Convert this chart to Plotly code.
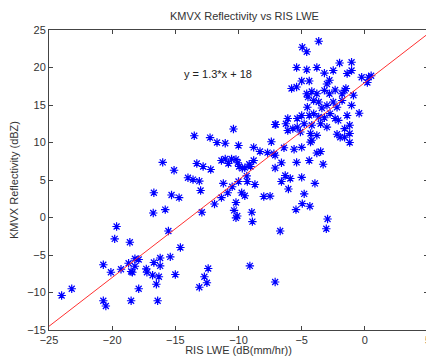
import plotly.graph_objects as go

# RIS LWE (dB(mm/hr)) values of the scatter points
lwe = [
    -24.0, -23.2, -20.7, -20.5, -20.7, -20.1, -19.65, -19.8, -19.3, -18.6, -18.7, -18.5, -18.4,
    -18.2, -17.9, -18.2, -18.5, -17.9, -17.3, -17.25, -16.7, -16.8, -16.2, -16.2, -16.3, -16.5,
    -16.4, -15.4, -15.0, -16.75, -16.7, -15.8, -15.3, -15.55, -16.0, -15.1,
    -10.4, -13.5, -12.25, -11.7, -11.05, -10.0, -8.8, -8.3, -7.4, -7.1, -7.7, -7.2,
    -13.3, -12.8, -12.2, -11.35, -11.05, -10.8, -10.55, -10.2, -10.05, -9.95, -9.7, -9.5, -9.15,
    -9.05, -8.8, -7.1, -14.0, -13.6, -13.1, -11.2, -9.35, -10.0, -9.3, -10.5, -8.7, -13.0, -10.85,
    -9.75, -9.5, -11.35, -14.7, -11.9, -10.2, -10.35, -8.0, -7.5, -12.9, -10.1, -10.2, -8.95, -8.9,
    -14.6, -12.4, -12.7, -12.5, -13.1, -9.1, -7.1,
    -1.2, -7.1, -6.4, -5.6, -5.0, -4.3, -3.8, -3.5, -6.6, -5.4, -4.4, -3.3, -6.3, -5.9, -6.6, -5.0,
    -3.95, -6.05, -4.8, -4.95, -5.45, -4.35, -2.95, -3.05, -6.7,
    -3.65, -4.95, -4.6, -5.4, -4.6, -3.8, -2.0, -3.2, -2.5, -5.0, -4.4, -3.0, -2.8, -5.8, -5.4,
    -4.6, -4.5, -4.2, -3.8, -3.2, -2.8, -2.35, -1.8, -1.6, -4.05, -3.65, -3.4, -3.0, -2.5, -2.2,
    -1.8, -4.55, -5.0, -5.35, -4.4, -4.05, -3.65, -3.2, -2.75, -2.35, -6.1, -6.25, -7.05, -5.35,
    -4.8, -4.2, -3.5, -3.0, -6.1, -5.7, -5.1, -4.3, -3.8, -2.2, -4.2, -1.95,
    -1.05, -1.05, -1.4, -0.25, 0.5, 0.2, -1.5, -0.9, -1.05, -0.45, -1.4, -2.1, -1.2, -1.6, -1.2,
    -1.6, 0.3,
]

# KMVX Reflectivity (dBZ) values of the scatter points
dbz = [
    -10.4, -9.5, -11.1, -11.8, -6.3, -7.3, -1.2, -2.85, -6.9, -3.3, -6.1, -7.2, -7.3,
    -5.5, -5.6, -6.5, -11.1, -9.5, -6.85, -7.3, -6.0, -7.7, -5.4, -6.45, -7.9, -8.9,
    -11.1, -5.25, -7.6, 0.6, 3.3, 1.05, 3.0, -1.8, 7.35, 6.3,
    11.8, 10.9, 10.65, 10.0, 9.9, 9.6, 9.35, 8.8, 10.1, 12.4, 8.65, 8.5,
    7.2, 6.8, 6.4, 7.6, 7.8, 7.2, 7.8, 7.75, 7.3, 6.8, 6.55, 6.65, 7.1,
    6.8, 7.6, 6.6, 5.3, 5.05, 4.85, 4.55, 5.55, 4.8, 4.8, 4.1, 4.4, 3.6, 3.3,
    3.3, 2.9, 2.65, 2.65, 1.8, 2.0, 0.95, 2.8, 2.85, 0.7, 0.2, -0.05, 0.7, -0.55,
    -4.0, -6.8, -7.9, -8.7, -9.3, -6.45, -8.6,
    10.0, 8.3, 9.3, 9.1, 9.35, 10.05, 8.6, 8.8, 7.3, 7.35, 7.6, 7.1, 5.6, 5.2, 4.8, 5.35,
    4.55, 3.8, 3.15, 1.85, 1.05, 1.5, -0.2, -1.5, -1.8,
    23.5, 22.7, 22.1, 20.0, 19.7, 20.0, 20.6, 19.25, 19.6, 18.2, 18.2, 17.8, 18.3, 17.2, 17.4,
    16.5, 16.05, 16.8, 16.5, 16.95, 16.5, 17.0, 16.5, 16.95, 15.6, 15.4, 14.6, 14.95, 15.4, 14.7,
    15.6, 14.7, 13.6, 13.2, 13.6, 13.85, 13.4, 13.3, 13.85, 13.2, 13.2, 12.5, 12.4, 12.05,
    12.5, 12.3, 12.5, 12.05, 11.6, 11.85, 11.4, 11.2, 10.95, 11.1, 10.3, 10.7,
    20.7, 19.6, 19.2, 18.7, 18.9, 18.0, 17.2, 16.3, 14.95, 13.9, 13.6, 12.95, 12.3, 11.85, 11.2,
    10.7, 18.7,
]

# Fitted line y = 1.3*x + 18
fit_x = [-25, 5]
fit_slope = 1.3
fit_intercept = 18
fit_y = [fit_slope * v + fit_intercept for v in fit_x]

x_ticks = [-25, -20, -15, -10, -5, 0, 5]
y_ticks = [-15, -10, -5, 0, 5, 10, 15, 20, 25]

font = dict(family="Liberation Sans, Arial, sans-serif", size=11, color="#333333")

fig = go.Figure()
fig.add_trace(go.Scatter(
    x=lwe, y=dbz, mode="markers",
    marker=dict(symbol="asterisk-open", size=7, color="#0000FF",
                line=dict(color="#0000FF", width=1.2)),
    showlegend=False, hoverinfo="skip", cliponaxis=False,
))
fig.add_trace(go.Scatter(
    x=fit_x, y=fit_y, mode="lines",
    line=dict(color="#FF3030", width=1),
    showlegend=False, hoverinfo="skip",
))

fig.add_annotation(x=-11.6, y=19.1, text="y = 1.3*x + 18", showarrow=False,
                   font=dict(family="Liberation Sans, Arial, sans-serif", size=11, color="#222222"))

axis_common = dict(
    showgrid=False, zeroline=False, showline=True, linecolor="#444444", linewidth=1,
    mirror="ticks", ticks="inside", ticklen=4, tickcolor="#444444",
    tickfont=font, automargin=False, ticklabeloverflow="allow",
)

fig.update_layout(
    width=426, height=348,
    margin=dict(l=41, r=6, t=22, b=26, autoexpand=False),
    paper_bgcolor="white", plot_bgcolor="white",
    title=dict(text="KMVX Reflectivity vs RIS LWE", x=0.555, xanchor="center",
               yref="container", y=0.977, yanchor="middle", font=font),
    xaxis=dict(range=[-25, 5], tickvals=x_ticks,
               title=dict(text="RIS LWE (dB(mm/hr))", font=font, standoff=5),
               **axis_common),
    yaxis=dict(range=[-15, 25], tickvals=y_ticks,
               title=dict(text="KMVX Reflectivity (dBZ)", font=font, standoff=10),
               **axis_common),
)

fig.write_html("out.html")
